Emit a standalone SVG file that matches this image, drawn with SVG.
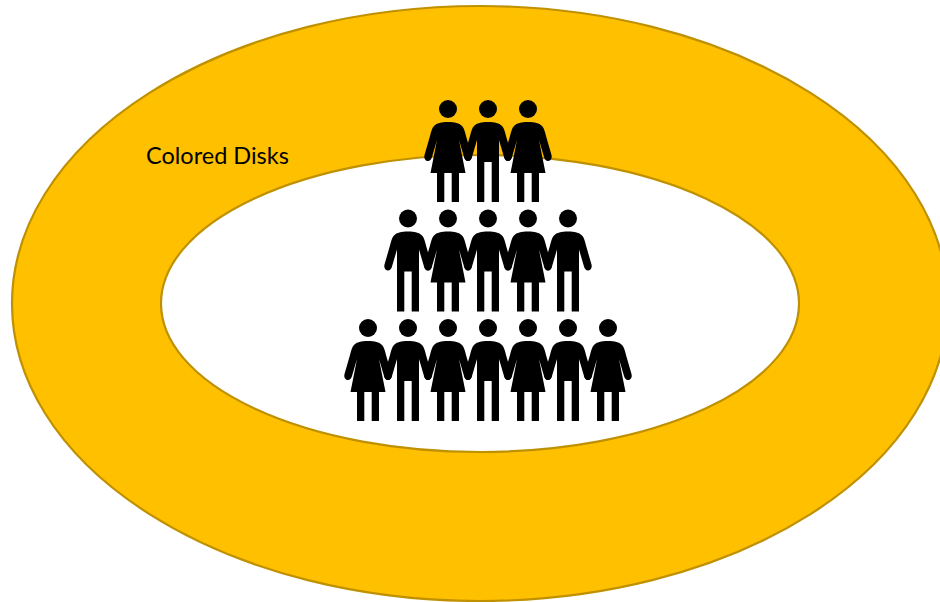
<svg xmlns="http://www.w3.org/2000/svg" xmlns:xlink="http://www.w3.org/1999/xlink" width="940" height="602" viewBox="0 0 940 602">
<style>
.ring{stroke:#BF9000;stroke-width:2.2}
.label{font-family:"Lato","Open Sans",sans-serif;font-size:23.5px;fill:#000}
</style>
<defs>
<g id="woman">
<circle cx="0" cy="0" r="9"/>
<path d="M0,13C-7,13-11,14-14,17C-16,19-17,23-18,27L-23.5,46C-24.5,50-22,52-20,52C-18,52-16.5,50-16,48L-11,31L-17.5,64H-11V93H-3.7V64H3.7V93H11V64H17.5L11,31L16,48C16.5,50,18,52,20,52C22,52,24.500,50,23.500,46L18,27C17,23,16,19,14,17C11,14,7,13,0,13Z"/>
</g>
<g id="man">
<circle cx="0" cy="0" r="9"/>
<path d="M0,13C-7,13-11,14-14,17C-16,19-17,23-18,27L-23.500,46C-24.500,50-22,52-20,52C-18,52-16.500,50-16,48L-11,31V93H-3.700V53H3.700V93H11V31L16,48C16.500,50,18,52,20,52C22,52,24.500,50,23.500,46L18,27C17,23,16,19,14,17C11,14,7,13,0,13Z"/>
</g>
</defs>
<g id="disk-outer"><ellipse class="ring" cx="480" cy="303.500" rx="468" ry="297.500" fill="#FFC000"/></g>
<g id="disk-inner"><ellipse class="ring" cx="480" cy="303.500" rx="319" ry="148.500" fill="#FFFFFF"/></g>
<g id="label-colored-disks"><text class="label" x="146" y="164">Colored Disks</text></g>
<g id="people-row-1">
<use xlink:href="#woman" href="#woman" x="448" y="109"/>
<use xlink:href="#man" href="#man" x="488" y="109"/>
<use xlink:href="#woman" href="#woman" x="528" y="109"/>
</g>
<g id="people-row-2">
<use xlink:href="#man" href="#man" x="408" y="218.500"/>
<use xlink:href="#woman" href="#woman" x="448" y="218.500"/>
<use xlink:href="#man" href="#man" x="488" y="218.500"/>
<use xlink:href="#woman" href="#woman" x="528" y="218.500"/>
<use xlink:href="#man" href="#man" x="568" y="218.500"/>
</g>
<g id="people-row-3">
<use xlink:href="#woman" href="#woman" x="368" y="328"/>
<use xlink:href="#man" href="#man" x="408" y="328"/>
<use xlink:href="#woman" href="#woman" x="448" y="328"/>
<use xlink:href="#man" href="#man" x="488" y="328"/>
<use xlink:href="#woman" href="#woman" x="528" y="328"/>
<use xlink:href="#man" href="#man" x="568" y="328"/>
<use xlink:href="#woman" href="#woman" x="608" y="328"/>
</g>
</svg>
